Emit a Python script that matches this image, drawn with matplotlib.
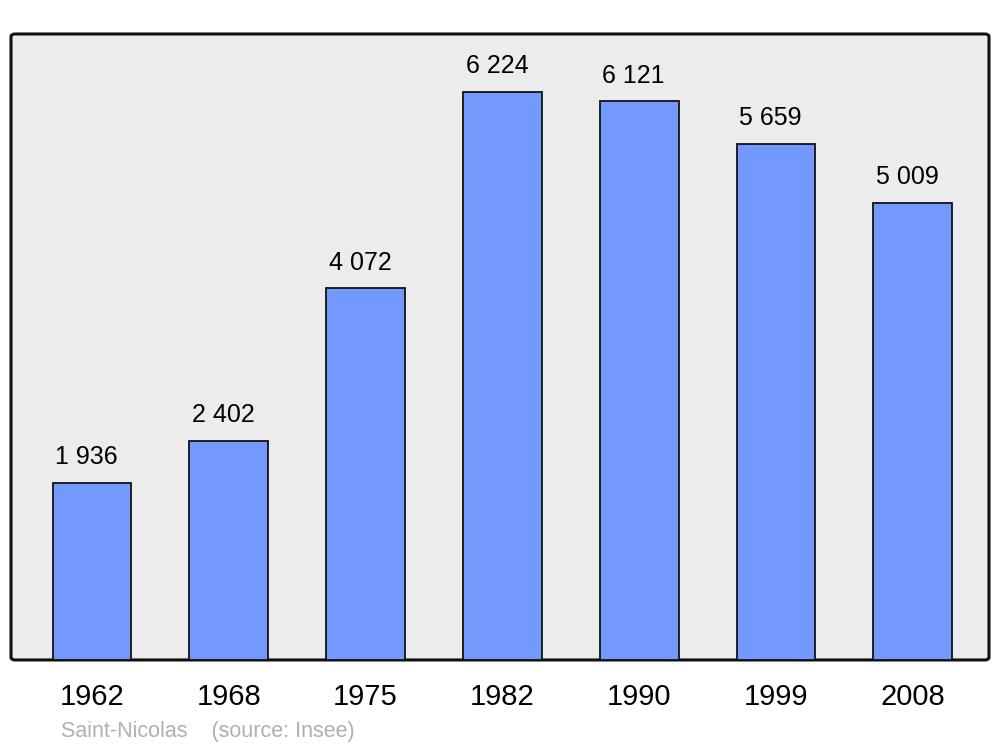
import matplotlib
matplotlib.use("Agg")
import matplotlib.pyplot as plt
from matplotlib.patches import FancyBboxPatch

# data
years = ["1962", "1968", "1975", "1982", "1990", "1999", "2008"]
population = [1936, 2402, 4072, 6224, 6121, 5659, 5009]
labels = ["1 936", "2 402", "4 072", "6 224", "6 121", "5 659", "5 009"]

plt.rcParams["font.family"] = ["Liberation Sans", "DejaVu Sans"]

fig = plt.figure(figsize=(10, 7.47), dpi=100)
ax = fig.add_axes([0.011, 0.1165, 0.978, 0.838])

# rounded grey panel behind the bars
panel = FancyBboxPatch((0.011, 0.1165), 0.978, 0.838,
                       boxstyle="round,pad=0,rounding_size=0.004",
                       transform=fig.transFigure, facecolor="#ececec",
                       edgecolor="#111111", linewidth=2.2, zorder=-5)
fig.patches.append(panel)
ax.set_facecolor("none")
for s in ax.spines.values():
    s.set_visible(False)

x = list(range(len(years)))
ax.bar(x, population, width=0.575, color="#7399ff", edgecolor="#111111",
       linewidth=1.3, zorder=2)

for xi, v, lab in zip(x, population, labels):
    ax.annotate(lab, (xi, v), xytext=(-4, 10), textcoords="offset points",
                ha="center", va="bottom", fontsize=18)

ax.set_xlim(-0.592, 6.557)
ax.set_ylim(0, 6860)
ax.set_yticks([])
ax.set_xticks(x)
ax.set_xticklabels(years, fontsize=21)
ax.tick_params(axis="x", length=0, pad=16.5)

fig.text(0.061, 0.014, "Saint-Nicolas    (source: Insee)", fontsize=15.5,
         color="#b0b0b0")

fig.savefig("out.png", dpi=100)
